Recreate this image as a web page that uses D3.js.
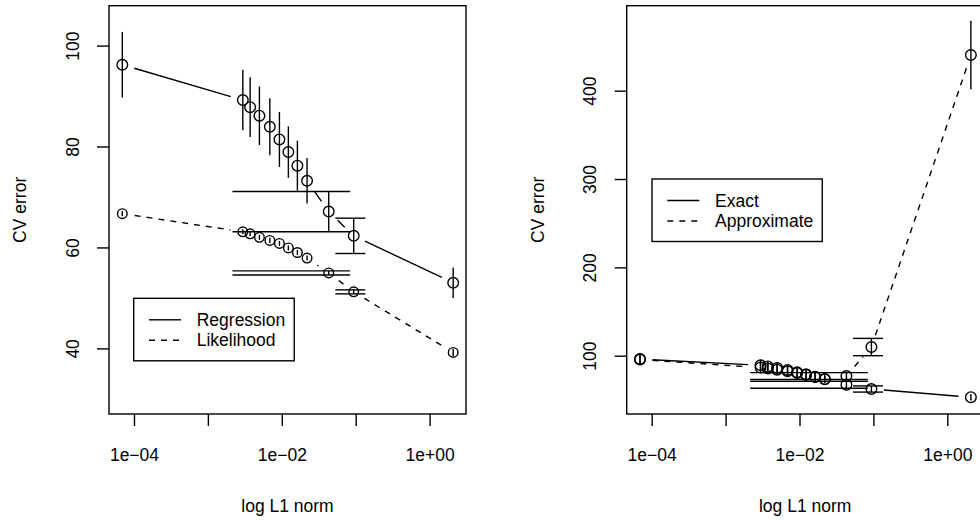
<!DOCTYPE html>
<html>
<head>
<meta charset="utf-8">
<script src="https://cdn.jsdelivr.net/npm/d3@7"></script>
<style>
  body { margin: 0; background: #fff; }
  svg { display: block; font-family: "Liberation Sans", Arial, Helvetica, sans-serif; }
</style>
</head>
<body>
<svg id="chart" width="980" height="521"></svg>
<script>
// L1 norm of each fit (x of every series)
const l1Norm = [6.95e-5, 0.00297, 0.00373, 0.00498, 0.00689, 0.00929, 0.01227, 0.01626, 0.02198, 0.04315, 0.094, 2.085];

// left panel
const regressionCV = [96.2, 89.2, 87.8, 86.1, 83.9, 81.4, 78.9, 76.2, 73.2, 67.1, 62.3, 53.0];
const regressionSE = [6.5, 6.0, 5.9, 5.8, 5.65, 5.45, 5.1, 4.95, 4.5, 4.0, 3.5, 2.9];
const likelihoodCV = [66.7, 63.1, 62.7, 62.0, 61.4, 60.8, 59.9, 59.0, 57.9, 54.95, 51.2, 39.2];
const likelihoodSE = [0.5, 0.5, 0.5, 0.5, 0.5, 0.5, 0.5, 0.5, 0.5, 0.4, 0.4, 0.6];

// right panel
const exactCV = regressionCV;
const exactSE = regressionSE;
const approxCV = [95.6, 86.5, 85.4, 84.2, 82.4, 80.3, 78.2, 76.0, 73.5, 77.0, 109.8, 440.4];
const approxSE = [5.5, 5.5, 5.4, 5.3, 5.2, 5.0, 4.9, 4.7, 4.5, 3.8, 9.8, 38];

const xTicks = [1e-4, 1e-3, 1e-2, 1e-1, 1];
const xTickLabels = ["1e\u221204", "", "1e\u221202", "", "1e+00"];
const leftYTicks = [40, 60, 80, 100];
const rightYTicks = [100, 200, 300, 400];

const xLabel = "log L1 norm";
const yLabel = "CV error";

const fontSize = 17.5;
const lineW = 1.4;
const gap = 12.5;          // type = "b" gap round each point
const capHalfWidth = 0.041; // plotCI caps, in x data units
const plotTop = 5.7, plotBottom = 414;

const panels = [
  {
    left: 109, right: 466,
    yDomain: [27.0, 107.9], yTicks: leftYTicks,
    series: [
      { name: "Regression", cv: regressionCV, se: regressionSE, dash: null, r: 5.3 },
      { name: "Likelihood", cv: likelihoodCV, se: likelihoodSE, dash: "6,6", r: 4.8 },
    ],
    legend: { x: 133.7, y: 298.3 },
  },
  {
    left: 626.7, right: 983.7,
    yDomain: [34.0, 496.2], yTicks: rightYTicks,
    series: [
      { name: "Exact", cv: exactCV, se: exactSE, dash: null, r: 5.3 },
      { name: "Approximate", cv: approxCV, se: approxSE, dash: "6,6", r: 5.3 },
    ],
    legend: { x: 652, y: 179 },
  },
];

const svg = d3.select("#chart");

const gapped = (pts) => {
  const segs = [];
  for (let i = 1; i < pts.length; i++) {
    const [x1, y1] = pts[i - 1];
    const [x2, y2] = pts[i];
    const d = Math.hypot(x2 - x1, y2 - y1);
    if (d <= 2 * gap) continue;
    const ux = (x2 - x1) / d, uy = (y2 - y1) / d;
    segs.push([x1 + ux * gap, y1 + uy * gap, x2 - ux * gap, y2 - uy * gap]);
  }
  return segs;
};

panels.forEach((p) => {
  const x = d3.scaleLog()
    .domain([Math.pow(10, -4.338), Math.pow(10, 0.4925)])
    .range([p.left, p.right]);
  const y = d3.scaleLinear()
    .domain(p.yDomain)
    .range([plotBottom, plotTop]);

  const g = svg.append("g");

  // x axis
  const xa = g.append("g")
    .attr("transform", `translate(0, ${plotBottom})`)
    .call(d3.axisBottom(x).tickValues(xTicks).tickSize(12).tickSizeOuter(0)
      .tickFormat((d, i) => xTickLabels[i]));
  xa.select(".domain").remove();
  xa.selectAll("line").attr("stroke", "#000").attr("stroke-width", lineW);
  xa.selectAll("text")
    .attr("y", 41).attr("dy", "0.35em")
    .attr("fill", "#000")
    .style("font-size", fontSize + "px")
    .style("font-family", "inherit");

  // y axis
  const ya = g.append("g")
    .attr("transform", `translate(${p.left}, 0)`)
    .call(d3.axisLeft(y).tickValues(p.yTicks).tickSize(12).tickSizeOuter(0));
  ya.select(".domain").remove();
  ya.selectAll("line").attr("stroke", "#000").attr("stroke-width", lineW);
  ya.selectAll("text")
    .attr("x", 0).attr("dy", "0.35em")
    .attr("transform", "translate(-36.5, 0) rotate(-90)")
    .attr("text-anchor", "middle")
    .attr("fill", "#000")
    .style("font-size", fontSize + "px")
    .style("font-family", "inherit");

  // box
  g.append("rect")
    .attr("x", p.left).attr("y", plotTop)
    .attr("width", p.right - p.left).attr("height", plotBottom - plotTop)
    .attr("fill", "none").attr("stroke", "#000").attr("stroke-width", lineW);

  // titles
  g.append("text")
    .attr("x", (p.left + p.right) / 2).attr("y", 506).attr("dy", "0.35em")
    .attr("text-anchor", "middle")
    .style("font-size", fontSize + "px")
    .text(xLabel);
  g.append("text")
    .attr("transform", `translate(${p.left - 89}, ${(plotTop + plotBottom) / 2}) rotate(-90)`)
    .attr("dy", "0.35em")
    .attr("text-anchor", "middle")
    .style("font-size", fontSize + "px")
    .text(yLabel);

  p.series.forEach((s) => {
    const data = l1Norm.map((v, i) => ({ x: v, cv: s.cv[i], se: s.se[i] }));
    const pts = data.map((d) => [x(d.x), y(d.cv)]);

    // lines with gaps
    g.append("g").selectAll("line")
      .data(gapped(pts))
      .join("line")
      .attr("x1", (d) => d[0]).attr("y1", (d) => d[1])
      .attr("x2", (d) => d[2]).attr("y2", (d) => d[3])
      .attr("stroke", "#000")
      .attr("stroke-width", lineW)
      .attr("stroke-dasharray", s.dash);

    // vertical error bars
    g.append("g").selectAll("line")
      .data(data)
      .join("line")
      .attr("x1", (d) => x(d.x)).attr("x2", (d) => x(d.x))
      .attr("y1", (d) => y(d.cv - d.se)).attr("y2", (d) => y(d.cv + d.se))
      .attr("stroke", "#000")
      .attr("stroke-width", lineW);

    // caps (only where x - width stays positive on the log axis)
    const caps = data
      .filter((d) => d.x - capHalfWidth > 0)
      .flatMap((d) => [
        { x1: d.x - capHalfWidth, x2: d.x + capHalfWidth, v: d.cv - d.se },
        { x1: d.x - capHalfWidth, x2: d.x + capHalfWidth, v: d.cv + d.se },
      ]);
    g.append("g").selectAll("line")
      .data(caps)
      .join("line")
      .attr("x1", (d) => x(d.x1)).attr("x2", (d) => x(d.x2))
      .attr("y1", (d) => y(d.v)).attr("y2", (d) => y(d.v))
      .attr("stroke", "#000")
      .attr("stroke-width", lineW);

    // points
    g.append("g").selectAll("circle")
      .data(data)
      .join("circle")
      .attr("cx", (d) => x(d.x))
      .attr("cy", (d) => y(d.cv))
      .attr("r", s.r)
      .attr("fill", "none")
      .attr("stroke", "#000")
      .attr("stroke-width", lineW);
  });

  // legend
  const lg = g.append("g").attr("transform", `translate(${p.legend.x}, ${p.legend.y})`);
  const box = lg.append("rect")
    .attr("fill", "#fff").attr("stroke", "#000").attr("stroke-width", lineW)
    .attr("height", 62.5);
  let maxW = 0;
  p.series.forEach((s, i) => {
    const ry = 21.5 + i * 20.5;
    lg.append("line")
      .attr("x1", 15.3).attr("x2", 47.3)
      .attr("y1", ry).attr("y2", ry)
      .attr("stroke", "#000").attr("stroke-width", lineW)
      .attr("stroke-dasharray", s.dash);
    const t = lg.append("text")
      .attr("x", 63).attr("y", ry).attr("dy", "0.35em")
      .style("font-size", fontSize + "px")
      .text(s.name);
    maxW = Math.max(maxW, t.node().getComputedTextLength());
  });
  box.attr("width", 63 + maxW + 9);
});
</script>
</body>
</html>
